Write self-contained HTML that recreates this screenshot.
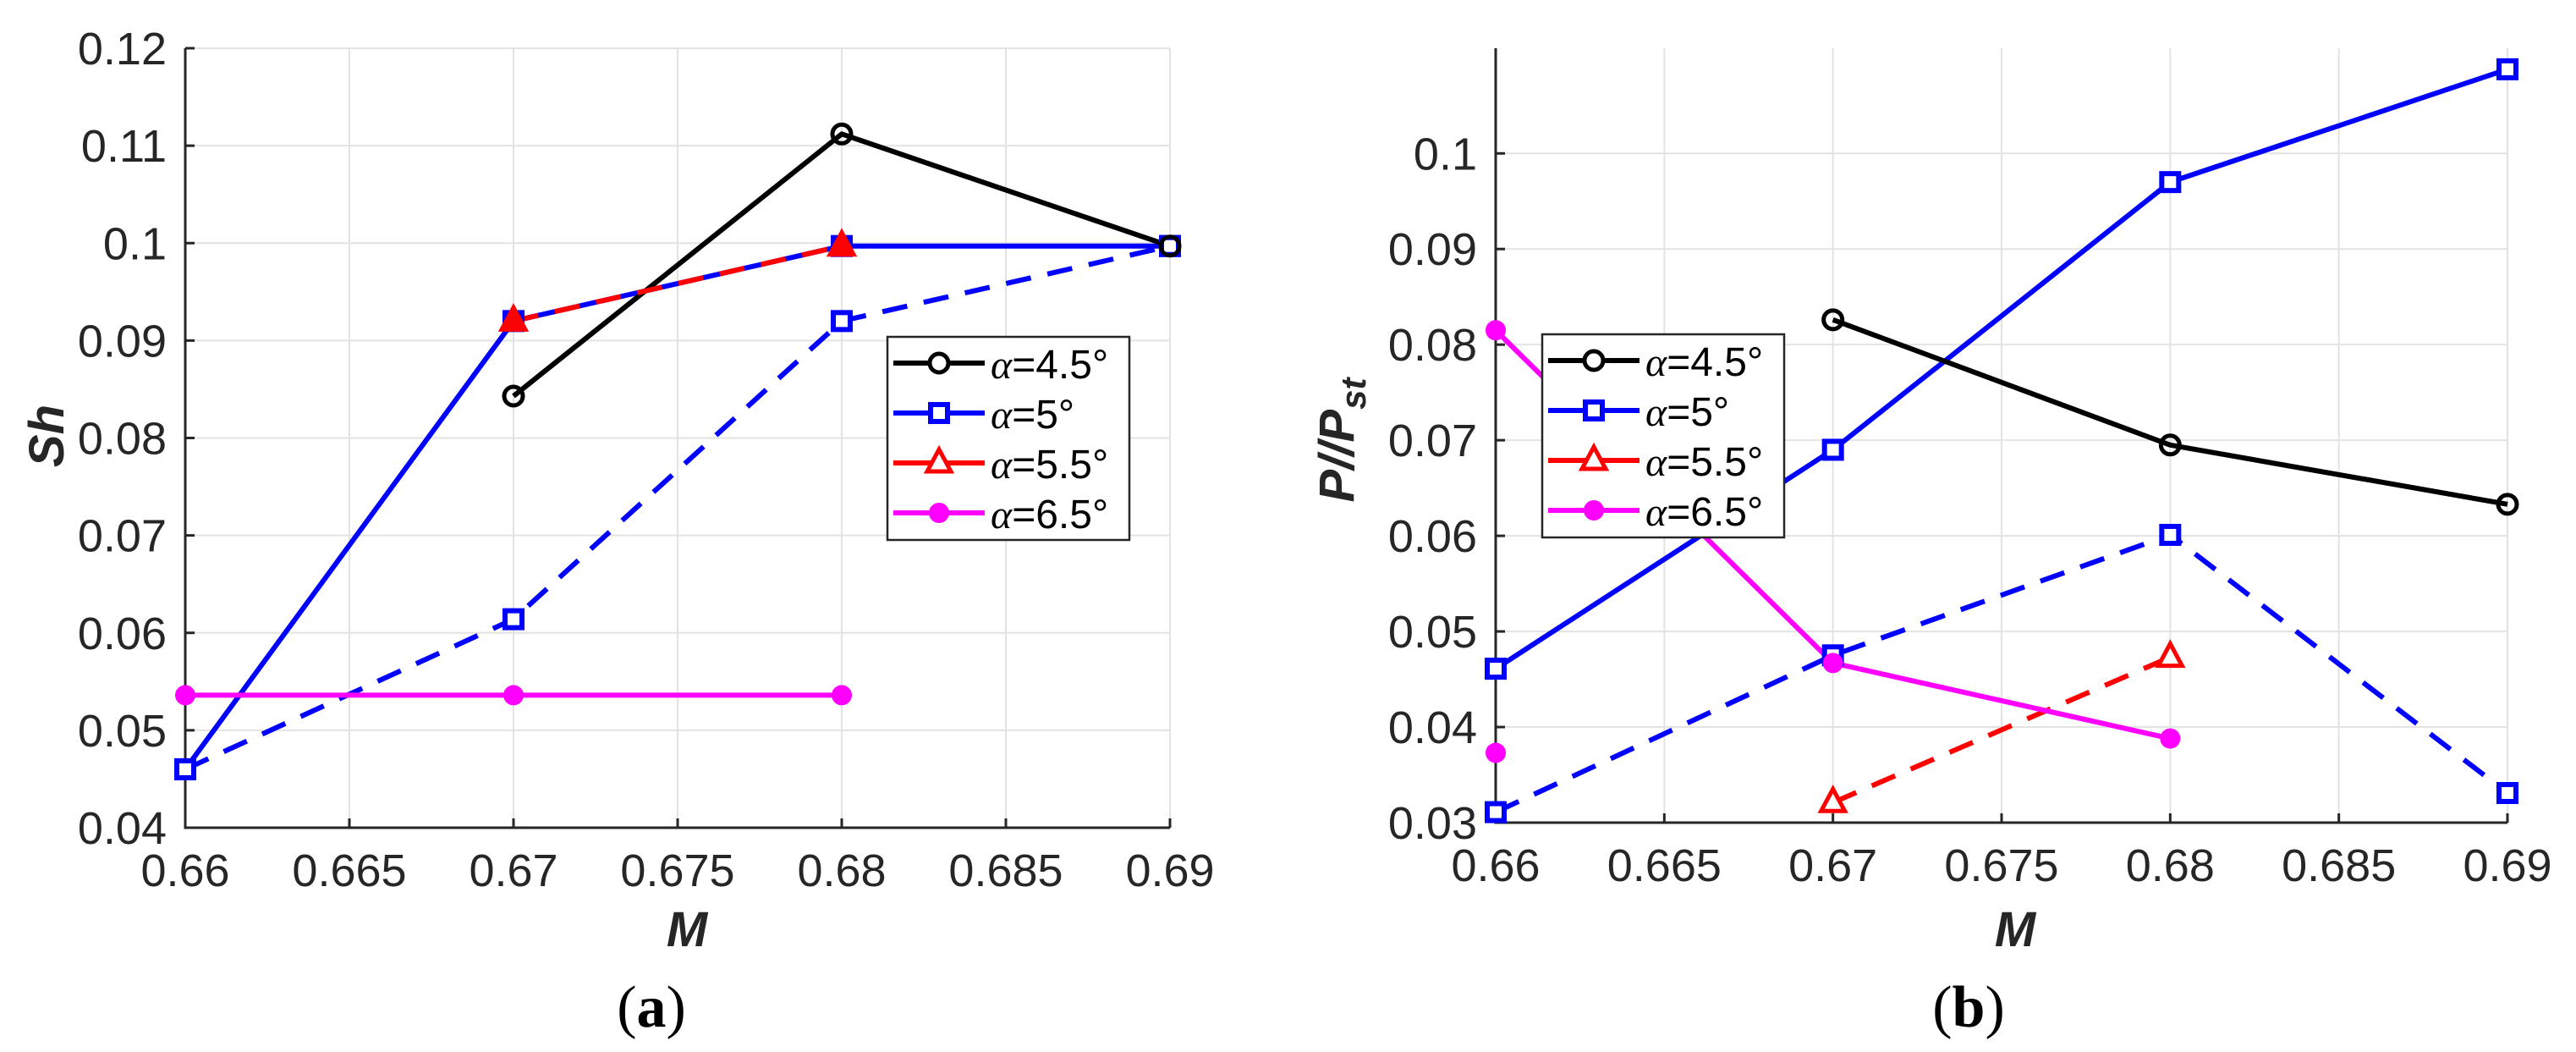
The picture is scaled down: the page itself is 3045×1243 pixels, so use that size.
<!DOCTYPE html>
<html><head><meta charset="utf-8">
<style>
html,body{margin:0;padding:0;background:#fff;}
svg{display:block;}
</style></head>
<body>
<svg id="fig" width="3045" height="1243" viewBox="0 0 3045 1243" xmlns="http://www.w3.org/2000/svg"></svg>
<script>
// ---- data ----
const xTicks = [0.66, 0.665, 0.67, 0.675, 0.68, 0.685, 0.69];
const xTickLabels = ["0.66","0.665","0.67","0.675","0.68","0.685","0.69"];
const aYTicks = [0.04,0.05,0.06,0.07,0.08,0.09,0.1,0.11,0.12];
const aYTickLabels = ["0.04","0.05","0.06","0.07","0.08","0.09","0.1","0.11","0.12"];
const bYTicks = [0.03,0.04,0.05,0.06,0.07,0.08,0.09,0.1];
const bYTickLabels = ["0.03","0.04","0.05","0.06","0.07","0.08","0.09","0.1"];

const aBlackX = [0.67,0.68,0.69];       const aBlackY = [0.0843,0.1112,0.0997];
const aBlueX = [0.66,0.67,0.68,0.69];   const aBlueY = [0.046,0.092,0.0997,0.0997];
const aBlueDX = [0.66,0.67,0.68,0.69];  const aBlueDY = [0.046,0.0614,0.092,0.0997];
const aRedX = [0.67,0.68];              const aRedY = [0.092,0.0997];
const aMagX = [0.66,0.67,0.68];         const aMagY = [0.0536,0.0536,0.0536];

const bBlackX = [0.67,0.68,0.69];       const bBlackY = [0.0826,0.0695,0.0633];
const bBlueX = [0.66,0.67,0.68,0.69];   const bBlueY = [0.0461,0.069,0.097,0.1088];
const bBlueDX = [0.66,0.67,0.68,0.69];  const bBlueDY = [0.0311,0.0475,0.0601,0.0331];
const bRedX = [0.67,0.68];              const bRedY = [0.0321,0.0473];
const bMagX = [0.66,0.67,0.68];         const bMagY = [0.0815,0.0467,0.0388];
const bMagSoloX = [0.66];               const bMagSoloY = [0.0373];

const legendLabels = ["=4.5°","=5°","=5.5°","=6.5°"];

const NS = "http://www.w3.org/2000/svg";
const svg = document.getElementById('fig');
function mk(tag, attrs, parent){
  const e = document.createElementNS(NS, tag);
  for (const k in attrs) e.setAttribute(k, attrs[k]);
  (parent||svg).appendChild(e);
  return e;
}
const FONT = '"Liberation Sans", Arial, sans-serif';

function chart(cfg){
  const g = mk('g', {});
  
  
  const sx = v => cfg.x0 + (v - 0.66) / 0.03 * (cfg.x1 - cfg.x0);
  const sy = v => cfg.yb - (v - cfg.ymin) / (cfg.ymax - cfg.ymin) * (cfg.yb - cfg.yt);
  // grid
  xTicks.forEach((t,i)=>{
    const l = mk('line',{x1:sx(t),x2:sx(t),y1:cfg.yt,y2:cfg.yb,stroke:'#e3e3e3','stroke-width':2},g);
    
    
  });
  cfg.yTicks.forEach(t=>{
    const l = mk('line',{x1:cfg.x0,x2:cfg.x1,y1:sy(t),y2:sy(t),stroke:'#e3e3e3','stroke-width':2},g);
    
    
  });
  // axes
  const ax = mk('path',{d:`M${cfg.x0},${cfg.yt} V${cfg.yb} H${cfg.x1}`,fill:'none',stroke:'#262626','stroke-width':3},g);
  
  
  xTicks.forEach((t,i)=>{
    mk('line',{x1:sx(t),x2:sx(t),y1:cfg.yb,y2:cfg.yb-11,stroke:'#262626','stroke-width':3},g);
    const tx = mk('text',{x:sx(t),y:cfg.yb+69,'text-anchor':'middle','font-family':FONT,'font-size':54,fill:'#262626'},g);
    tx.textContent = xTickLabels[i];
    
    
  });
  cfg.yTicks.forEach((t,i)=>{
    mk('line',{x1:cfg.x0,x2:cfg.x0+11,y1:sy(t),y2:sy(t),stroke:'#262626','stroke-width':3},g);
    const tx = mk('text',{x:cfg.x0-22,y:sy(t)+19,'text-anchor':'end','font-family':FONT,'font-size':54,fill:'#262626'},g);
    tx.textContent = cfg.yTickLabels[i];
    
    
  });
  // series
  function line(xs, ys, color, dashed, name){
    const pts = xs.map((x,i)=>sx(x)+','+sy(ys[i])).join(' ');
    const p = mk('polyline',{points:pts,fill:'none',stroke:color,'stroke-width':6,'stroke-linejoin':'round'},g);
    if (dashed) p.setAttribute('stroke-dasharray','30 20');
    
    
  }
  function markers(xs, ys, type, color, name){
    xs.forEach((x,i)=>{
      const cx = sx(x), cy = sy(ys[i]);
      let m;
      if (type==='circle') m = mk('circle',{cx,cy,r:11,fill:'none',stroke:color,'stroke-width':5},g);
      else if (type==='dot') m = mk('circle',{cx,cy,r:12,fill:color},g);
      else if (type==='square') m = mk('rect',{x:cx-10,y:cy-10,width:20,height:20,fill:'#fff',stroke:color,'stroke-width':6},g);
      else if (type==='tri') m = mk('polygon',{points:`${cx},${cy-16} ${cx-14},${cy+10} ${cx+14},${cy+10}`,fill:cfg.triFill,stroke:color,'stroke-width':5},g);
      
      
    });
  }
  const d = cfg.data;
  line(d.blueX, d.blueY, '#0000ff', false, 'alpha-5-solid-line');
  line(d.blueDX, d.blueDY, '#0000ff', true, 'alpha-5-dashed-line');
  line(d.blackX, d.blackY, '#000000', false, 'alpha-4.5-line');
  line(d.redX, d.redY, '#ff0000', true, 'alpha-5.5-line');
  line(d.magX, d.magY, '#ff00ff', false, 'alpha-6.5-line');
  markers(d.blueDX, d.blueDY, 'square', '#0000ff', 'alpha-5-dashed-marker');
  markers(d.blueX, d.blueY, 'square', '#0000ff', 'alpha-5-marker');
  markers(d.blackX, d.blackY, 'circle', '#000000', 'alpha-4.5-marker');
  markers(d.redX, d.redY, 'tri', '#ff0000', 'alpha-5.5-marker');
  markers(d.magX, d.magY, 'dot', '#ff00ff', 'alpha-6.5-marker');
  if (d.magSoloX) markers(d.magSoloX, d.magSoloY, 'dot', '#ff00ff', 'alpha-6.5-extra-marker');
  // legend
  const lg = mk('g',{},g);
  
  
  mk('rect',{x:cfg.lx,y:cfg.ly,width:286,height:240,fill:'#fff',stroke:'#262626','stroke-width':2.5},lg);
  const cols = ['#000000','#0000ff','#ff0000','#ff00ff'];
  const types = ['circle','square','tri','dot'];
  for (let i=0;i<4;i++){
    const yy = cfg.ly + 31 + i*59;
    const e = mk('g',{},lg);
    
    
    mk('line',{x1:cfg.lx+7,x2:cfg.lx+115,y1:yy,y2:yy,stroke:cols[i],'stroke-width':6},e);
    const cx = cfg.lx+61;
    if (types[i]==='circle') mk('circle',{cx,cy:yy,r:11,fill:'#fff',stroke:cols[i],'stroke-width':5},e);
    if (types[i]==='square') mk('rect',{x:cx-10,y:yy-10,width:20,height:20,fill:'#fff',stroke:cols[i],'stroke-width':6},e);
    if (types[i]==='tri') mk('polygon',{points:`${cx},${yy-16} ${cx-14},${yy+10} ${cx+14},${yy+10}`,fill:'#fff',stroke:cols[i],'stroke-width':5},e);
    if (types[i]==='dot') mk('circle',{cx,cy:yy,r:12,fill:cols[i]},e);
    const t = mk('text',{x:cfg.lx+122,y:yy+18,'font-family':FONT,'font-size':48,fill:'#000'},e);
    const a = mk('tspan',{'font-family':'"Liberation Serif", serif','font-style':'italic'},t);
    a.textContent = 'α';
    const r = mk('tspan',{},t);
    r.textContent = legendLabels[i];
  }
  // axis titles
  const xt = mk('text',{x:cfg.mx,y:1118,'text-anchor':'middle','font-family':FONT,'font-size':58,'font-weight':'bold','font-style':'italic',fill:'#262626'},g);
  xt.textContent = 'M';
  
  
  const cap = mk('text',{x:cfg.cx,y:1213,'text-anchor':'middle','font-family':'"Liberation Serif", serif','font-size':70,fill:'#000'},g);
  cap.innerHTML = '(<tspan font-weight="bold">'+cfg.cap+'</tspan>)';
  
  
  return {g, sx, sy};
}

const A = chart({name:'chart-a-sh', x0:219, x1:1383, yt:57, yb:978, ymin:0.04, ymax:0.12,
  yTicks:aYTicks, yTickLabels:aYTickLabels, lx:1049, ly:398, triFill:'#ff0000', mx:812, cx:770, cap:'a',
  data:{blackX:aBlackX,blackY:aBlackY,blueX:aBlueX,blueY:aBlueY,blueDX:aBlueDX,blueDY:aBlueDY,redX:aRedX,redY:aRedY,magX:aMagX,magY:aMagY}});
const yA = mk('text',{x:0,y:0,'text-anchor':'middle','font-family':FONT,'font-size':58,'font-weight':'bold','font-style':'italic',fill:'#262626',transform:'translate(75,515) rotate(-90)'});
yA.textContent = 'Sh';



const B = chart({name:'chart-b-power', x0:1768, x1:2964, yt:57, yb:972, ymin:0.03, ymax:0.111,
  yTicks:bYTicks, yTickLabels:bYTickLabels, lx:1823, ly:395, triFill:'#fff', mx:2382, cx:2327, cap:'b',
  data:{blackX:bBlackX,blackY:bBlackY,blueX:bBlueX,blueY:bBlueY,blueDX:bBlueDX,blueDY:bBlueDY,redX:bRedX,redY:bRedY,magX:bMagX,magY:bMagY,magSoloX:bMagSoloX,magSoloY:bMagSoloY}});
const yB = mk('text',{x:0,y:0,'text-anchor':'middle','font-family':FONT,'font-size':58,'font-weight':'bold','font-style':'italic',fill:'#262626',transform:'translate(1600,520) rotate(-90)'});
yB.innerHTML = 'P//P<tspan font-size="42" dy="14">st</tspan>';


</script>
</body></html>
